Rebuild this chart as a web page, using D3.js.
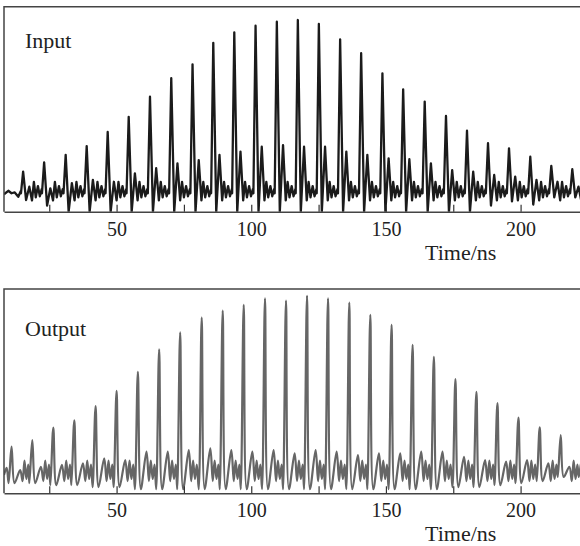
<!DOCTYPE html>
<html>
<head>
<meta charset="utf-8">
<script src="https://cdn.jsdelivr.net/npm/d3@7"></script>
<style>
  html, body { margin: 0; padding: 0; background: #fff; }
  svg { display: block; }
  text { font-family: "Liberation Serif", "Times New Roman", serif; fill: #222; }
</style>
</head>
<body>
<svg id="chart" width="580" height="546"></svg>
<script>
// time axis
const timeDomain = [8.2, 222.8];
const tickValues = [25, 50, 75, 100, 125, 150, 175, 200, 225];
const labelledTicks = [50, 100, 150, 200];

// input trace: pulse positions (ns), peak, post-pulse trough and ringing bump (% of panel height)
const inputPeakTimes = [15.3, 23.1, 31.1, 38.9, 46.7, 54.5, 62.4, 70.3, 78.2, 85.9, 93.7, 101.6, 109.5, 117.3, 125.1, 133.0, 140.8, 148.7, 156.4, 164.4, 172.3, 180.1, 187.9, 195.7, 203.6, 211.4, 219.2];
const inputPeaks = [19.5, 24.1, 27.7, 32.0, 38.9, 46.3, 56.1, 65.1, 71.9, 82.4, 87.5, 90.7, 92.7, 93.5, 91.6, 84.1, 77.3, 67.5, 59.7, 53.7, 46.7, 39.5, 33.4, 30.9, 26.8, 22.4, 20.7];
const inputTroughs = [5.7, 3, 0, 0, 0, 0, 0, 0, 0, 0, 0, 0, 0, 0, 0, 0, 0, 0, 0, 0, 0, 0, 3, 5, 3.5, 7, 7];
const inputRings = [12.2, 11.4, 13.9, 15.5, 14.6, 18.7, 21.2, 23.6, 25.2, 27.7, 29.3, 31.7, 32.5, 31.7, 31.7, 29.3, 27.7, 26.0, 25.6, 23.6, 20.3, 19.5, 17.9, 17.1, 15.5, 14.6, 12.2];
// small ripple between input pulses, [offset from peak ns, level]
const inputRipple = [[-0.8, 9], [3.3, 5.5], [4.0, 14.5], [4.7, 7], [5.5, 12.5], [6.2, 7.5], [6.9, 11]];
const inputLead = [[8.2, 8.5], [9.8, 10.2], [11.0, 9], [12.2, 9.4], [13.5, 7.3], [14.4, 10]];

// output trace
const outputPeakTimes = [11.0, 18.7, 26.5, 34.3, 42.2, 50.0, 57.9, 65.8, 73.6, 81.6, 89.4, 97.2, 105.1, 112.9, 120.7, 128.5, 136.4, 144.2, 152.1, 159.9, 167.8, 175.8, 183.6, 191.4, 199.2, 207.1, 214.9, 222.7];
const outputPeaks = [22.8, 26.1, 32.1, 35.7, 42.7, 50.1, 59.5, 70.5, 78.8, 86.0, 89.4, 92.2, 95.4, 94.3, 96.7, 95.4, 93.3, 87.3, 82.4, 72.7, 66.8, 55.9, 49.7, 44.1, 37.0, 32.3, 28.5, 16];
const outputTroughs = [5, 5, 4, 4, 3, 3, 2, 2, 2, 2, 2, 2, 2, 2, 2, 2, 2, 2, 2, 2, 2, 3, 3, 4, 5, 6, 8, 8];
const outputRings = [11.4, 13, 13.9, 14.7, 17.1, 16.3, 20.4, 20.4, 21.2, 22, 21.2, 20.4, 21.2, 19.6, 21.2, 20.4, 18.7, 19.6, 19.6, 20.4, 20.4, 17.9, 16.3, 15.5, 16.3, 14.7, 13, 12];
const outputRipple = [[4.1, 6], [4.8, 16], [5.5, 7], [6.2, 14]];
const outputLead = [[8.2, 9], [9.2, 12.5]];

function buildTrace(times, peaks, troughs, rings, ripple, lead, shape) {
  const pts = lead.map(([t, v]) => ({ t, v }));
  times.forEach((t0, i) => {
    if (shape.preTrough != null) pts.push({ t: t0 + shape.preTrough, v: troughs[i] });
    pts.push({ t: t0, v: peaks[i] });
    pts.push({ t: t0 + shape.trough, v: troughs[i] });
    pts.push({ t: t0 + shape.ring, v: rings[i] });
    ripple.forEach(([dt, v]) => pts.push({ t: t0 + dt, v }));
  });
  return pts.sort((a, b) => a.t - b.t);
}

const panels = [
  {
    name: 'Input', top: 6.7, bottom: 211.7, labelY: 48.3, color: '#1b1b1b', width: 2.3,
    curve: d3.curveLinear,
    data: buildTrace(inputPeakTimes, inputPeaks, inputTroughs, inputRings, inputRipple, inputLead,
      { trough: 1.1, ring: 2.3 })
  },
  {
    name: 'Output', top: 289, bottom: 493.3, labelY: 335.7, color: '#666', width: 2.2,
    curve: d3.curveCatmullRom.alpha(0.5),
    data: buildTrace(outputPeakTimes, outputPeaks, outputTroughs, outputRings, outputRipple, outputLead,
      { preTrough: -1.1, trough: 1.1, ring: 3.2 })
  }
];

const svg = d3.select('#chart');
const x = d3.scaleLinear().domain(timeDomain).range([4, 582]);

panels.forEach((p, k) => {
  const y = d3.scaleLinear().domain([0, 100]).range([p.bottom, p.top]);
  const g = svg.append('g');

  g.append('clipPath').attr('id', `clip${k}`)
    .append('rect')
    .attr('x', x.range()[0]).attr('y', p.top)
    .attr('width', x.range()[1] - x.range()[0]).attr('height', p.bottom - p.top);

  const line = d3.line()
    .x((d) => x(d.t))
    .y((d) => y(Math.max(d.v, -2)))
    .curve(p.curve);

  g.append('path')
    .datum(p.data)
    .attr('clip-path', `url(#clip${k})`)
    .attr('fill', 'none')
    .attr('stroke', p.color)
    .attr('stroke-width', p.width)
    .attr('stroke-linejoin', 'round')
    .attr('d', line);

  // frame: top and left edges
  g.append('path')
    .attr('d', `M${x.range()[1]},${p.top}H${x.range()[0]}V${p.bottom}`)
    .attr('fill', 'none')
    .attr('stroke', '#444')
    .attr('stroke-width', 1.5);

  const axis = d3.axisBottom(x)
    .tickValues(tickValues)
    .tickSize(-7)
    .tickSizeOuter(0)
    .tickPadding(10)
    .tickFormat((d) => (labelledTicks.includes(d) ? d : ''));

  const ax = g.append('g')
    .attr('transform', `translate(0,${p.bottom})`)
    .call(axis);
  ax.select('.domain').attr('stroke', '#444').attr('stroke-width', 1.5);
  ax.selectAll('.tick line').attr('stroke', '#333').attr('stroke-width', 1.2);
  ax.selectAll('.tick text')
    .attr('fill', '#222')
    .style('font-family', '"Liberation Serif", "Times New Roman", serif')
    .style('font-size', '20px');

  g.append('text')
    .attr('x', 425)
    .attr('y', p.bottom + 48)
    .style('font-size', '22px')
    .text('Time/ns');

  g.append('text')
    .attr('x', 25)
    .attr('y', p.labelY)
    .style('font-size', '22px')
    .text(p.name);
});
</script>
</body>
</html>
